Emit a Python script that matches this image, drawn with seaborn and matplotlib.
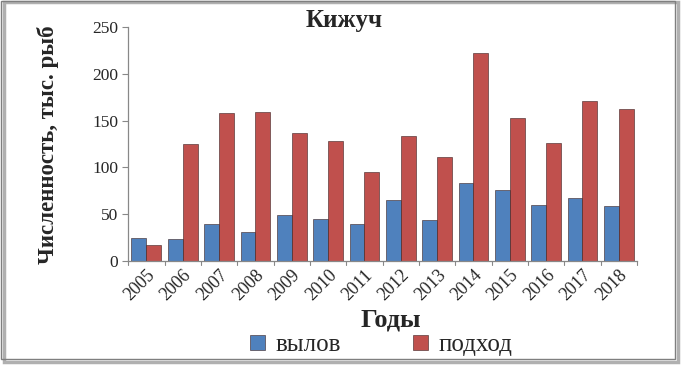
import matplotlib
matplotlib.use("Agg")
import matplotlib.pyplot as plt
import seaborn as sns
import pandas as pd
from matplotlib.patches import Rectangle

years = ["2005", "2006", "2007", "2008", "2009", "2010", "2011",
         "2012", "2013", "2014", "2015", "2016", "2017", "2018"]
catch = [25, 24, 39, 31, 49, 45, 39, 65, 44, 83, 76, 60, 67, 59]
run = [17, 125, 158, 159, 137, 128, 95, 134, 111, 222, 153, 126, 171, 162]
series_names = ["вылов", "подход"]
yticks = [0, 50, 100, 150, 200, 250]

df = pd.DataFrame({
    "Годы": years * 2,
    "value": catch + run,
    "series": [series_names[0]] * len(years) + [series_names[1]] * len(years),
})

sns.set_style("white")
plt.rcParams["font.family"] = ["Liberation Serif", "DejaVu Serif"]

fig = plt.figure(figsize=(6.82, 3.66), dpi=100)
ax = fig.add_axes([0.188, 0.287, 0.746, 0.639])

palette = {"вылов": "#4F81BD", "подход": "#C0504D"}
sns.barplot(data=df, x="Годы", y="value", hue="series", palette=palette,
            width=0.82, gap=0, saturation=1, ax=ax, legend=True)
for p in ax.patches:
    p.set_edgecolor("#3a2020")
    p.set_linewidth(0.4)

ax.set_ylim(0, 250)
ax.set_xlim(-0.5, len(years) - 0.5)
ax.set_yticks(yticks)
ax.set_yticklabels([str(t) for t in yticks], fontsize=12.5)
ax.set_xticks(range(len(years)))
ax.set_xticklabels(years, rotation=45, fontsize=13, ha="right",
                   rotation_mode="anchor")
ax.tick_params(axis="x", length=0, pad=4)
ax.tick_params(axis="y", length=4, color="#888888", left=True, pad=3)
for i in range(len(years) + 1):
    ax.plot([i - 0.5, i - 0.5], [0, -4], color="#888888", lw=0.8,
            clip_on=False, transform=ax.transData)
for s in ["top", "right"]:
    ax.spines[s].set_visible(False)
for s in ["left", "bottom"]:
    ax.spines[s].set_color("#888888")
    ax.spines[s].set_linewidth(0.9)

ax.set_title("Кижуч", fontsize=18, fontweight="bold", x=0.424, pad=0)
ax.set_xlabel("Годы", fontsize=19, fontweight="bold")
ax.xaxis.set_label_coords(0.517, -0.252)
ax.xaxis.label.set_va("center")
ax.set_ylabel("Численность, тыс. рыб", fontsize=16.5, fontweight="bold")
ax.yaxis.set_label_coords(-0.157, 0.496)
ax.yaxis.label.set_va("center")

handles, labels = ax.get_legend_handles_labels()
ax.get_legend().remove()
fig.legend(handles, labels, loc="center", bbox_to_anchor=(0.559, 0.057),
           ncol=2, frameon=False, fontsize=18, handlelength=0.6,
           handleheight=0.55, columnspacing=2.9, handletextpad=0.4)

fig.patches.append(Rectangle((0.006, 0.01), 0.988, 0.985, transform=fig.transFigure,
                             fill=False, edgecolor="#b0b0b0", lw=2.5, zorder=-1))
fig.patches.append(Rectangle((0.002, 0.018), 0.988, 0.978, transform=fig.transFigure,
                             fill=False, edgecolor="#7f7f7f", lw=1.0, zorder=0))

fig.savefig("out.png", dpi=100)
